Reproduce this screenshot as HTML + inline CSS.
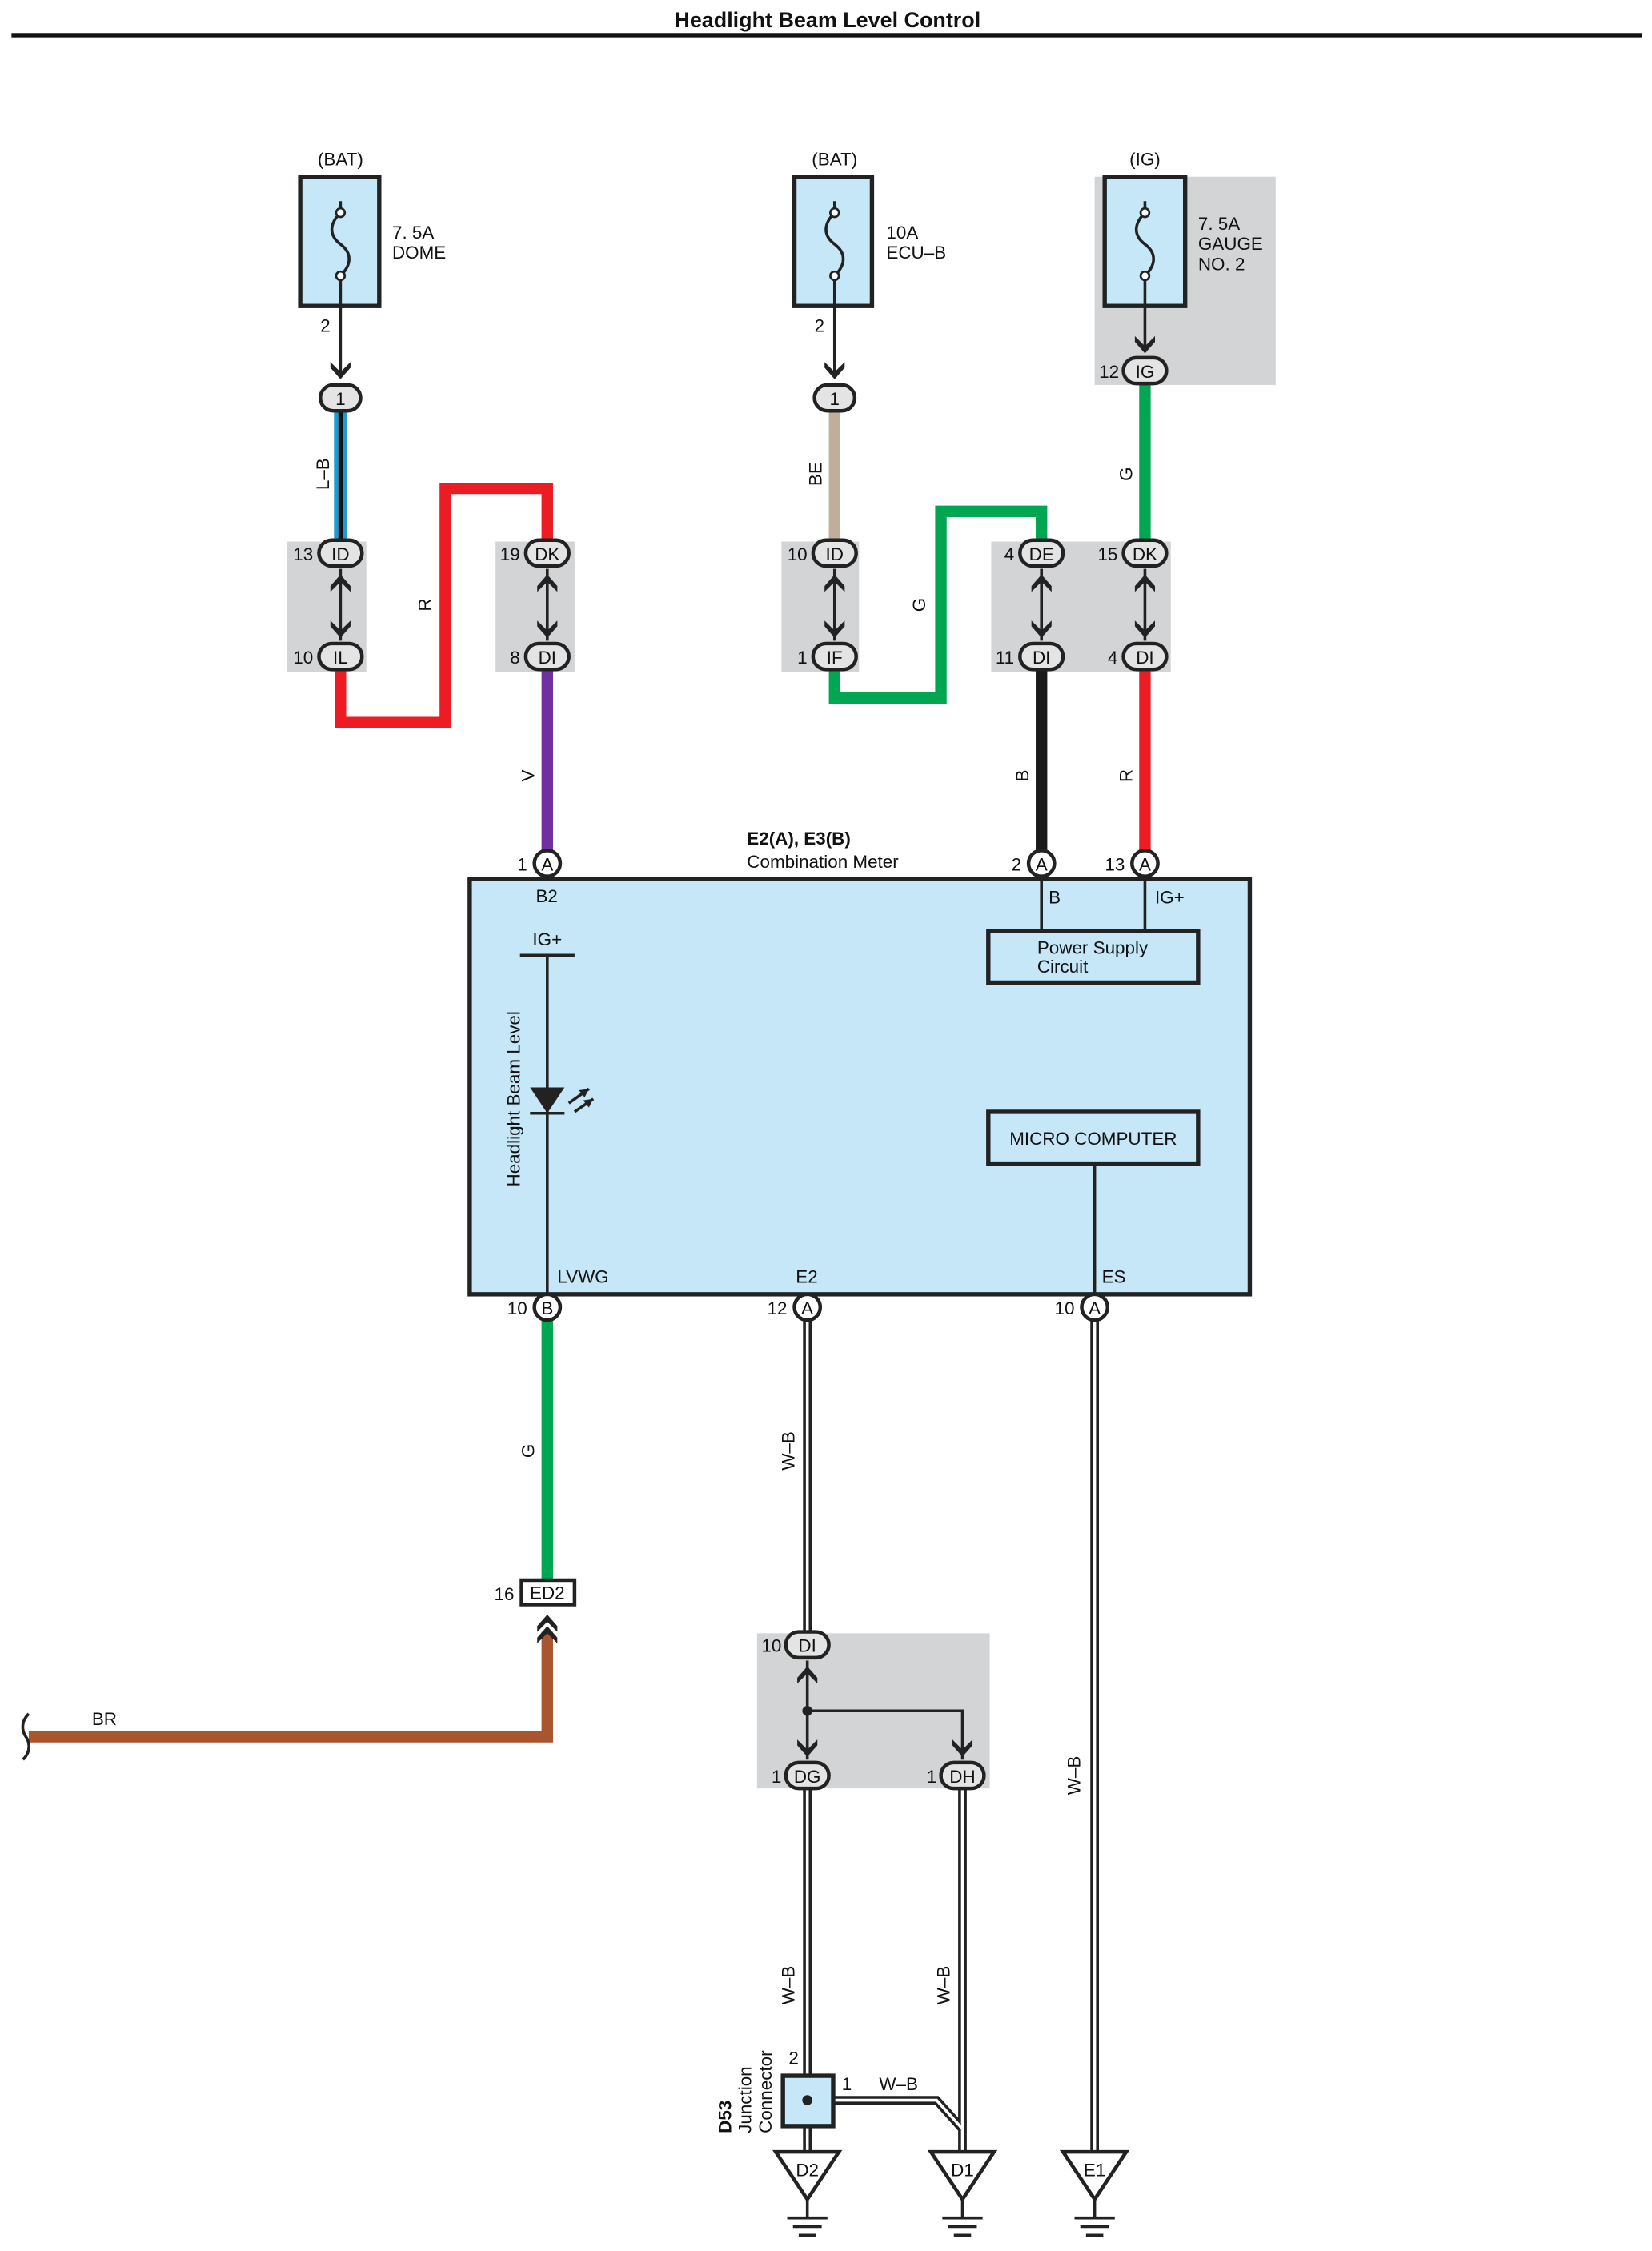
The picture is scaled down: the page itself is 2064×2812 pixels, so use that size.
<!DOCTYPE html>
<html><head><meta charset="utf-8">
<style>html,body{margin:0;padding:0;background:#fff}svg{display:block}text{font-family:"Liberation Sans",sans-serif;font-size:12.5px;fill:#111}</style>
</head><body>
<svg width="2064" height="2812" viewBox="0 0 1150 1567" preserveAspectRatio="none" xmlns="http://www.w3.org/2000/svg">
<defs>
<g id="dn"><polygon points="-7,-8 0,-1 7,-8 7,-4 0,4 -7,-4" fill="#222"/></g>
<g id="up"><polygon points="-7,8 0,1 7,8 7,4 0,-4 -7,4" fill="#222"/></g>
</defs>
<text x="576" y="19" text-anchor="middle" style="font-weight:bold;font-size:15px">Headlight Beam Level Control</text>
<rect x="8" y="23" width="1135" height="3" fill="#111"/>

<!-- grey boxes -->
<g fill="#d3d4d6">
<rect x="762" y="123" width="126" height="145"/>
<rect x="200" y="377" width="55" height="91"/>
<rect x="345" y="377" width="55" height="91"/>
<rect x="544" y="377" width="54" height="91"/>
<rect x="690" y="377" width="125" height="91"/>
<rect x="527" y="1137" width="162" height="108"/>
</g>

<!-- fuses -->
<g stroke="#222" stroke-width="3" fill="#c6e7f7">
<rect x="209" y="123" width="55" height="90"/>
<rect x="553" y="123" width="54" height="90"/>
<rect x="769" y="123" width="56" height="90"/>
</g>
<g fill="none" stroke="#222" stroke-width="2">
<path d="M237,140 v8 c-8,8 -8,16 0,22 c8,6 8,14 0,22 v21"/>
<path d="M581,140 v8 c-8,8 -8,16 0,22 c8,6 8,14 0,22 v21"/>
<path d="M797,140 v8 c-8,8 -8,16 0,22 c8,6 8,14 0,22 v21"/>
<line x1="237" y1="213" x2="237" y2="262"/><line x1="581" y1="213" x2="581" y2="262"/><line x1="797" y1="213" x2="797" y2="244"/>
</g>
<g fill="#fff" stroke="#222" stroke-width="1.5"><circle cx="237" cy="148" r="3"/><circle cx="237" cy="192" r="3"/><circle cx="581" cy="148" r="3"/><circle cx="581" cy="192" r="3"/><circle cx="797" cy="148" r="3"/><circle cx="797" cy="192" r="3"/></g>
<use href="#dn" x="237" y="260"/><use href="#dn" x="581" y="260"/><use href="#dn" x="797" y="242"/>
<text x="237" y="115" text-anchor="middle">(BAT)</text><text x="581" y="115" text-anchor="middle">(BAT)</text><text x="797" y="115" text-anchor="middle">(IG)</text>
<text x="273" y="166">7. 5A</text><text x="273" y="180">DOME</text>
<text x="617" y="166">10A</text><text x="617" y="180">ECU–B</text>
<text x="834" y="160">7. 5A</text><text x="834" y="174">GAUGE</text><text x="834" y="188">NO. 2</text>
<text x="223" y="231">2</text><text x="567" y="231">2</text>

<!-- wires -->
<g fill="none" stroke-linejoin="miter">
<line x1="234" y1="286" x2="234" y2="377" stroke="#1a9ad6" stroke-width="3"/>
<line x1="240" y1="286" x2="240" y2="377" stroke="#1a9ad6" stroke-width="3"/>
<line x1="237" y1="286" x2="237" y2="377" stroke="#111" stroke-width="3"/>
<path d="M237,466 V503 H310 V340 H381 V377" stroke="#ec1c24" stroke-width="8"/>
<line x1="381" y1="466" x2="381" y2="593" stroke="#7030a0" stroke-width="8"/>
<line x1="581" y1="286" x2="581" y2="377" stroke="#bfae9c" stroke-width="8"/>
<path d="M581,466 V486 H655 V356 H725 V377" stroke="#00a651" stroke-width="8"/>
<line x1="797" y1="267" x2="797" y2="377" stroke="#00a651" stroke-width="8"/>
<line x1="725" y1="466" x2="725" y2="593" stroke="#1a1a1a" stroke-width="8"/>
<line x1="797" y1="466" x2="797" y2="593" stroke="#ec1c24" stroke-width="8"/>
<line x1="381" y1="919" x2="381" y2="1100" stroke="#00a651" stroke-width="8"/>
<path d="M381,1136 V1209 H20" stroke="#a9552e" stroke-width="8"/>
</g>
<path d="M20,1193 c-8,8 -2,16 -2,16 c0,0 6,8 -2,16" fill="none" stroke="#222" stroke-width="2"/>

<!-- W-B double wires -->
<g fill="none" stroke="#222" stroke-width="6">
<line x1="562" y1="919" x2="562" y2="1137"/>
<line x1="562" y1="1245" x2="562" y2="1445"/>
<line x1="670" y1="1245" x2="670" y2="1498"/>
<line x1="762" y1="919" x2="762" y2="1498"/>
<path d="M580,1462 H652 L670,1482"/>
<line x1="562" y1="1480" x2="562" y2="1498"/>
</g>
<g fill="none" stroke="#fff" stroke-width="2">
<line x1="562" y1="919" x2="562" y2="1137"/>
<line x1="562" y1="1245" x2="562" y2="1445"/>
<line x1="670" y1="1245" x2="670" y2="1498"/>
<line x1="762" y1="919" x2="762" y2="1498"/>
<path d="M580,1462 H652 L670,1482"/>
<line x1="562" y1="1480" x2="562" y2="1498"/>
</g>

<!-- connectors -->
<g fill="#e4e4e4" stroke="#222" stroke-width="2.5">
<rect x="223" y="268" width="28" height="18" rx="9"/>
<rect x="567" y="268" width="28" height="18" rx="9"/>
<rect x="782" y="249" width="30" height="18" rx="9"/>
<rect x="222" y="376" width="30" height="18" rx="9"/><rect x="222" y="448" width="30" height="18" rx="9"/>
<rect x="366" y="376" width="30" height="18" rx="9"/><rect x="366" y="448" width="30" height="18" rx="9"/>
<rect x="566" y="376" width="30" height="18" rx="9"/><rect x="566" y="448" width="30" height="18" rx="9"/>
<rect x="710" y="376" width="30" height="18" rx="9"/><rect x="710" y="448" width="30" height="18" rx="9"/>
<rect x="782" y="376" width="30" height="18" rx="9"/><rect x="782" y="448" width="30" height="18" rx="9"/>
<rect x="547" y="1136" width="30" height="18" rx="9"/>
<rect x="547" y="1227" width="30" height="18" rx="9"/><rect x="655" y="1227" width="30" height="18" rx="9"/>
</g>
<g text-anchor="middle">
<text x="237" y="282">1</text><text x="581" y="282">1</text><text x="797" y="263">IG</text>
<text x="237" y="390">ID</text><text x="237" y="462">IL</text>
<text x="381" y="390">DK</text><text x="381" y="462">DI</text>
<text x="581" y="390">ID</text><text x="581" y="462">IF</text>
<text x="725" y="390">DE</text><text x="725" y="462">DI</text>
<text x="797" y="390">DK</text><text x="797" y="462">DI</text>
<text x="562" y="1150">DI</text><text x="562" y="1241">DG</text><text x="670" y="1241">DH</text>
</g>
<g text-anchor="end">
<text x="779" y="263">12</text>
<text x="218" y="390">13</text><text x="218" y="462">10</text>
<text x="362" y="390">19</text><text x="362" y="462">8</text>
<text x="562" y="390">10</text><text x="562" y="462">1</text>
<text x="706" y="390">4</text><text x="706" y="462">11</text>
<text x="778" y="390">15</text><text x="778" y="462">4</text>
<text x="544" y="1150">10</text><text x="544" y="1241">1</text><text x="652" y="1241">1</text>
</g>
<!-- double arrows between pins -->
<g stroke="#222" stroke-width="2">
<line x1="237" y1="396" x2="237" y2="446"/><line x1="381" y1="396" x2="381" y2="446"/>
<line x1="581" y1="396" x2="581" y2="446"/><line x1="725" y1="396" x2="725" y2="446"/><line x1="797" y1="396" x2="797" y2="446"/>
<line x1="562" y1="1156" x2="562" y2="1225"/><path d="M562,1191 H670 V1225" fill="none"/>
</g>
<use href="#up" x="237" y="404"/><use href="#dn" x="237" y="440"/>
<use href="#up" x="381" y="404"/><use href="#dn" x="381" y="440"/>
<use href="#up" x="581" y="404"/><use href="#dn" x="581" y="440"/>
<use href="#up" x="725" y="404"/><use href="#dn" x="725" y="440"/>
<use href="#up" x="797" y="404"/><use href="#dn" x="797" y="440"/>
<use href="#up" x="562" y="1164"/><use href="#dn" x="562" y="1219"/><use href="#dn" x="670" y="1219"/>
<circle cx="562" cy="1191" r="3.5" fill="#222"/>

<!-- wire labels rotated -->
<g text-anchor="middle">
<text transform="translate(229,330) rotate(-90)">L–B</text>
<text transform="translate(300,421) rotate(-90)">R</text>
<text transform="translate(372,540) rotate(-90)">V</text>
<text transform="translate(572,330) rotate(-90)">BE</text>
<text transform="translate(644,421) rotate(-90)">G</text>
<text transform="translate(716,540) rotate(-90)">B</text>
<text transform="translate(788,540) rotate(-90)">R</text>
<text transform="translate(788,330) rotate(-90)">G</text>
<text transform="translate(372,1010) rotate(-90)">G</text>
<text transform="translate(553,1010) rotate(-90)">W–B</text>
<text transform="translate(553,1382) rotate(-90)">W–B</text>
<text transform="translate(661,1382) rotate(-90)">W–B</text>
<text transform="translate(752,1236) rotate(-90)">W–B</text>
</g>

<!-- meter -->
<rect x="327" y="612" width="543" height="289" fill="#c6e7f7" stroke="#222" stroke-width="3"/>
<text x="520" y="588" style="font-weight:bold">E2(A), E3(B)</text>
<text x="520" y="604">Combination Meter</text>
<g stroke="#222" stroke-width="2" fill="none">
<line x1="725" y1="610" x2="725" y2="648"/><line x1="797" y1="610" x2="797" y2="648"/>
<line x1="762" y1="810" x2="762" y2="901"/>
<line x1="381" y1="665" x2="381" y2="901"/><line x1="362" y1="665" x2="400" y2="665"/>
<line x1="369" y1="775" x2="393" y2="775"/>
<line x1="396" y1="768" x2="410" y2="758"/><line x1="400" y1="774" x2="413" y2="765"/>
</g>
<polygon points="369,757 393,757 381,775" fill="#222"/>
<polygon points="410,758 403,759 407,764" fill="#222"/><polygon points="413,765 406,766 410,771" fill="#222"/>
<g fill="none" stroke="#222" stroke-width="3"><rect x="688" y="648" width="146" height="36"/><rect x="688" y="774" width="146" height="36"/></g>
<text x="722" y="664">Power Supply</text><text x="722" y="677">Circuit</text>
<text x="761" y="797" text-anchor="middle">MICRO COMPUTER</text>
<text x="381" y="658" text-anchor="middle">IG+</text>
<text transform="translate(362,765) rotate(-90)" text-anchor="middle">Headlight Beam Level</text>
<text x="373" y="628">B2</text><text x="730" y="629">B</text><text x="804" y="629">IG+</text>
<text x="388" y="893">LVWG</text><text x="554" y="893">E2</text><text x="767" y="893">ES</text>
<g fill="#fff" stroke="#222" stroke-width="2.5">
<circle cx="381" cy="601" r="9"/><circle cx="725" cy="601" r="9"/><circle cx="797" cy="601" r="9"/>
<circle cx="381" cy="910" r="9"/><circle cx="562" cy="910" r="9"/><circle cx="762" cy="910" r="9"/>
</g>
<g text-anchor="middle" style="font-size:11.5px">
<text x="381" y="606">A</text><text x="725" y="606">A</text><text x="797" y="606">A</text>
<text x="381" y="915">B</text><text x="562" y="915">A</text><text x="762" y="915">A</text>
</g>
<g text-anchor="end"><text x="367" y="606">1</text><text x="711" y="606">2</text><text x="783" y="606">13</text>
<text x="367" y="915">10</text><text x="548" y="915">12</text><text x="748" y="915">10</text>
<text x="358" y="1114">16</text></g>

<!-- ED2 -->
<rect x="363" y="1100" width="37" height="17" fill="#fff" stroke="#222" stroke-width="2.5"/>
<text x="381" y="1113" text-anchor="middle">ED2</text>
<use href="#up" x="381" y="1128"/><use href="#up" x="381" y="1136"/>
<text x="64" y="1201">BR</text>

<!-- D53 -->
<rect x="545" y="1445" width="35" height="35" fill="#c6e7f7" stroke="#222" stroke-width="3"/>
<circle cx="562" cy="1462" r="3.5" fill="#222"/>
<text x="549" y="1437">2</text><text x="586" y="1455">1</text><text x="612" y="1455">W–B</text>
<text transform="translate(509,1485) rotate(-90)" style="font-weight:bold">D53</text>
<text transform="translate(523,1485) rotate(-90)">Junction</text>
<text transform="translate(537,1485) rotate(-90)">Connector</text>

<!-- grounds -->
<g fill="#fff" stroke="#222" stroke-width="2.5">
<polygon points="540,1498 584,1498 562,1531"/>
<polygon points="648,1498 692,1498 670,1531"/>
<polygon points="740,1498 784,1498 762,1531"/>
</g>
<g stroke="#222" stroke-width="2">
<line x1="562" y1="1531" x2="562" y2="1544"/><line x1="548" y1="1544" x2="576" y2="1544"/><line x1="552" y1="1550" x2="572" y2="1550"/><line x1="556" y1="1556" x2="568" y2="1556"/>
<line x1="670" y1="1531" x2="670" y2="1544"/><line x1="656" y1="1544" x2="684" y2="1544"/><line x1="660" y1="1550" x2="680" y2="1550"/><line x1="664" y1="1556" x2="676" y2="1556"/>
<line x1="762" y1="1531" x2="762" y2="1544"/><line x1="748" y1="1544" x2="776" y2="1544"/><line x1="752" y1="1550" x2="772" y2="1550"/><line x1="756" y1="1556" x2="768" y2="1556"/>
</g>
<g text-anchor="middle"><text x="562" y="1515">D2</text><text x="670" y="1515">D1</text><text x="762" y="1515">E1</text></g>
</svg>
</body></html>
